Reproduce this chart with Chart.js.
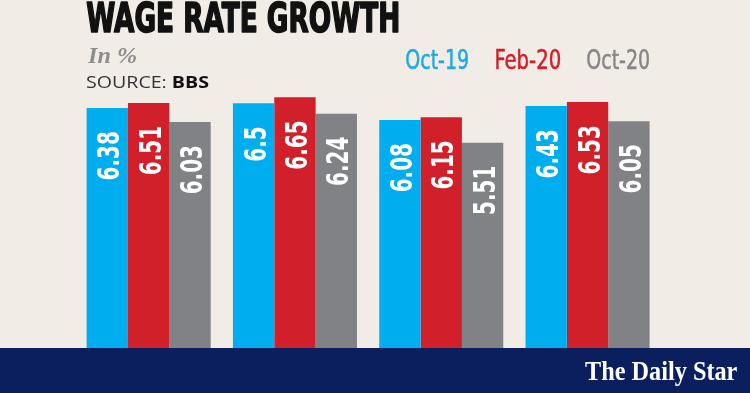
<!DOCTYPE html>
<html>
<head>
<meta charset="utf-8">
<script src="https://cdn.jsdelivr.net/npm/chart.js@4"></script>
<style>
  html, body { margin: 0; padding: 0; background: #f1ede6; overflow: hidden; }
  #wrap { width: 750px; height: 393px; }
</style>
</head>
<body>
<div id="wrap"><canvas id="wageChart" width="750" height="393"></canvas></div>
<script>
const categories = ['Group 1', 'Group 2', 'Group 3', 'Group 4'];
const seriesNames = ['Oct-19', 'Feb-20', 'Oct-20'];
const oct19 = [6.38, 6.5, 6.08, 6.43];
const feb20 = [6.51, 6.65, 6.15, 6.53];
const oct20 = [6.03, 6.24, 5.51, 6.05];

const barColors = ['#00aeef', '#d1202a', '#808285'];
const legendColors = ['#1ea9e1', '#d1202a', '#878787'];
const narrow = '"Liberation Sans Narrow", "DejaVu Sans Condensed", sans-serif';

// draw text so its ink starts at x and spans `width` px (horizontal squeeze only)
function fitText(ctx, text, x, y, font, color, width, thicken) {
  ctx.save();
  ctx.font = font;
  ctx.fillStyle = color;
  ctx.textAlign = 'left';
  ctx.textBaseline = 'alphabetic';
  const m = ctx.measureText(text);
  const ink = m.actualBoundingBoxLeft + m.actualBoundingBoxRight;
  const s = width ? width / ink : 1;
  ctx.translate(x + m.actualBoundingBoxLeft * s, y);
  ctx.scale(s, 1);
  ctx.fillText(text, 0, 0);
  if (thicken) {
    ctx.strokeStyle = color;
    ctx.lineWidth = thicken;
    ctx.lineJoin = 'round';
    ctx.strokeText(text, 0, 0);
  }
  ctx.restore();
}

const decor = {
  id: 'decor',
  beforeDraw(chart) {
    const ctx = chart.ctx;
    ctx.save();
    ctx.fillStyle = '#f1ede6';
    ctx.fillRect(0, 0, chart.width, chart.height);
    ctx.restore();
  },
  afterDatasetsDraw(chart) {
    const ctx = chart.ctx;
    const font = 'bold 30px ' + narrow;
    ctx.save();
    ctx.font = font;
    const ref = ctx.measureText('6.38');
    const s = 48 / (ref.actualBoundingBoxLeft + ref.actualBoundingBoxRight);
    const asc = ctx.measureText('6').actualBoundingBoxAscent;
    ctx.restore();

    chart.data.datasets.forEach((ds, i) => {
      chart.getDatasetMeta(i).data.forEach((bar, j) => {
        ctx.save();
        ctx.font = font;
        ctx.fillStyle = '#ffffff';
        ctx.textAlign = 'right';
        ctx.textBaseline = 'alphabetic';
        ctx.translate(bar.x + asc / 2 + 1, bar.y + 23);
        ctx.rotate(-Math.PI / 2);
        ctx.scale(s, 1);
        ctx.fillText(String(ds.data[j]), 0, 0);
        ctx.restore();
      });
    });
  },
  afterDraw(chart) {
    const ctx = chart.ctx;
    // titles
    fitText(ctx, 'WAGE RATE GROWTH', 87, 32, 'bold 40px ' + narrow, '#111111', 311, 1.6);
    fitText(ctx, 'In %', 87, 63, 'italic bold 24px "Liberation Serif", serif', '#8d8d8d', 49);

    // source line, two weights
    ctx.save();
    ctx.font = '16px "Open Sans", sans-serif';
    const w1 = ctx.measureText('SOURCE: ').width;
    ctx.font = 'bold 16px "Open Sans", sans-serif';
    const w2 = ctx.measureText('BBS').width;
    const k = 123 / (w1 + w2);
    ctx.translate(86, 88);
    ctx.scale(k, 1);
    ctx.fillStyle = '#333333';
    ctx.font = '16px "Open Sans", sans-serif';
    ctx.fillText('SOURCE: ', 0, 0);
    ctx.fillStyle = '#111111';
    ctx.font = 'bold 16px "Open Sans", sans-serif';
    ctx.fillText('BBS', w1, 0);
    ctx.restore();

    // legend
    const legX = [406, 496, 587];
    const legW = [62, 64, 62];
    seriesNames.forEach((name, i) => {
      fitText(ctx, name, legX[i], 69, '27px ' + narrow, legendColors[i], legW[i], 0.5);
    });

    // footer band
    ctx.save();
    ctx.fillStyle = '#0b1f5f';
    ctx.fillRect(0, 348, chart.width, chart.height - 348);
    ctx.restore();
    fitText(ctx, 'The Daily Star', 585, 380, 'bold 28px "Liberation Serif", serif', '#ffffff', 152);
  }
};

new Chart(document.getElementById('wageChart'), {
  type: 'bar',
  data: {
    labels: categories,
    datasets: [
      { label: seriesNames[0], data: oct19, backgroundColor: barColors[0] },
      { label: seriesNames[1], data: feb20, backgroundColor: barColors[1] },
      { label: seriesNames[2], data: oct20, backgroundColor: barColors[2] },
    ]
  },
  options: {
    responsive: false,
    animation: false,
    devicePixelRatio: 1,
    layout: { padding: { left: 75.5, right: 89.3, top: 83.4, bottom: 31 } },
    datasets: { bar: { barPercentage: 1, categoryPercentage: 0.848, borderWidth: 0 } },
    scales: {
      x: { display: false },
      y: { display: false, min: 0, max: 7 }
    },
    plugins: {
      legend: { display: false },
      tooltip: { enabled: false }
    }
  },
  plugins: [decor]
});
</script>
</body>
</html>
